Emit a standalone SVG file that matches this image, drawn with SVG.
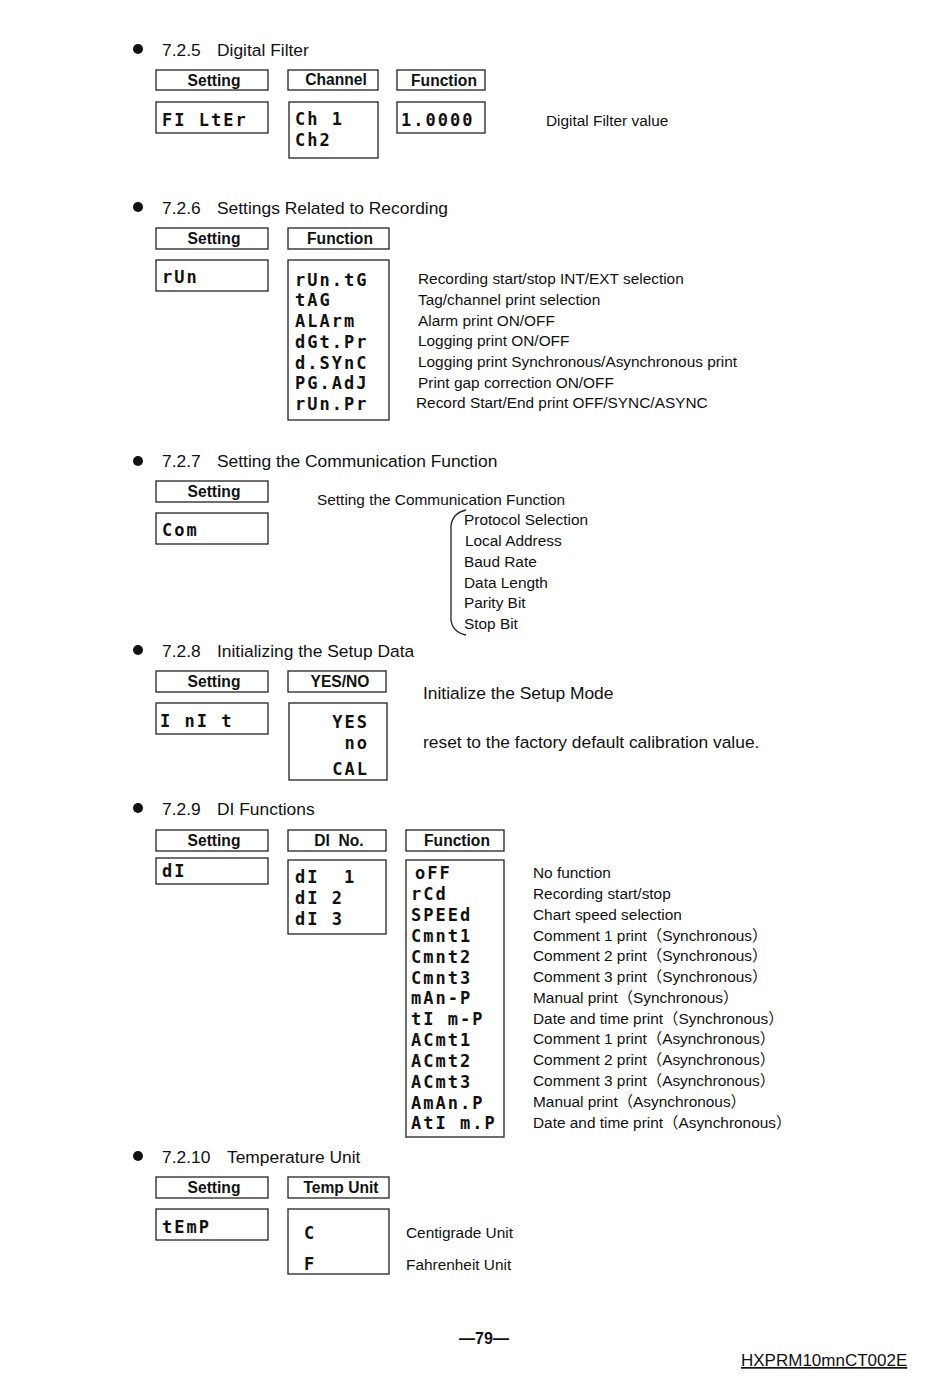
<svg xmlns="http://www.w3.org/2000/svg" width="950" height="1378" viewBox="0 0 950 1378">
<style>
.bg{fill:#fff}
.box{fill:#fff;stroke:#222;stroke-width:1.3}
.h{font-family:"Liberation Sans",Arial,sans-serif;font-size:17.4px;fill:#111}
.lb{font-family:"Liberation Sans",Arial,sans-serif;font-size:15.6px;font-weight:bold;fill:#111;text-anchor:middle}
.t{font-family:"Liberation Sans","Noto Sans CJK JP",Arial,sans-serif;font-size:15.4px;fill:#111}
.t2{font-family:"Liberation Sans",Arial,sans-serif;font-size:17.4px;fill:#111}
.seg{font-family:"DejaVu Sans Mono","Liberation Mono",monospace;font-size:17px;font-weight:bold;fill:#111;letter-spacing:2px}
.dot{fill:#111}
.line{fill:none;stroke:#222;stroke-width:1.3}
</style>
<rect class="bg" x="0" y="0" width="950" height="1378"/>

<!-- 7.2.5 -->
<g id="sec725">
<circle class="dot" cx="138" cy="49" r="5"/>
<text class="h" x="162" y="56">7.2.5</text><text class="h" x="217" y="56">Digital Filter</text>
<g id="n725-setting-h"><rect class="box" x="156" y="70" width="112" height="20"/><text class="lb" x="214" y="86">Setting</text></g>
<g id="n725-channel-h"><rect class="box" x="288" y="70" width="90" height="20"/><text class="lb" x="336" y="85">Channel</text></g>
<g id="n725-function-h"><rect class="box" x="397" y="70" width="88" height="20"/><text class="lb" x="444" y="86">Function</text></g>
<g id="n725-setting"><rect class="box" x="156" y="102" width="112" height="31"/><text class="seg" x="162" y="126">FI LtEr</text></g>
<g id="n725-channel"><rect class="box" x="289" y="102" width="89" height="56"/><text class="seg" x="295" y="125">Ch 1</text><text class="seg" x="295" y="146">Ch2</text></g>
<g id="n725-function"><rect class="box" x="397" y="102" width="88" height="31"/><text class="seg" x="401" y="126" letter-spacing="0.5">1.0000</text></g>
<text class="t" x="546" y="126">Digital Filter value</text>
</g>

<!-- 7.2.6 -->
<g id="sec726">
<circle class="dot" cx="138" cy="207" r="5"/>
<text class="h" x="162" y="214">7.2.6</text><text class="h" x="217" y="214">Settings Related to Recording</text>
<g id="n726-setting-h"><rect class="box" x="156" y="228" width="112" height="21"/><text class="lb" x="214" y="244">Setting</text></g>
<g id="n726-function-h"><rect class="box" x="288" y="228" width="101" height="21"/><text class="lb" x="340" y="244">Function</text></g>
<g id="n726-setting"><rect class="box" x="156" y="260" width="112" height="31"/><text class="seg" x="162" y="283">rUn</text></g>
<g id="n726-function"><rect class="box" x="288" y="260" width="101" height="160"/>
<text class="seg" x="295" y="286">rUn.tG</text>
<text class="seg" x="295" y="306">tAG</text>
<text class="seg" x="295" y="327">ALArm</text>
<text class="seg" x="295" y="348">dGt.Pr</text>
<text class="seg" x="295" y="369">d.SYnC</text>
<text class="seg" x="295" y="389">PG.AdJ</text>
<text class="seg" x="295" y="410">rUn.Pr</text>
</g>
<text class="t" x="418" y="284">Recording start/stop INT/EXT selection</text>
<text class="t" x="418" y="305">Tag/channel print selection</text>
<text class="t" x="418" y="326">Alarm print ON/OFF</text>
<text class="t" x="418" y="346">Logging print ON/OFF</text>
<text class="t" x="418" y="367">Logging print Synchronous/Asynchronous print</text>
<text class="t" x="418" y="388">Print gap correction ON/OFF</text>
<text class="t" x="416" y="408">Record Start/End print OFF/SYNC/ASYNC</text>
</g>

<!-- 7.2.7 -->
<g id="sec727">
<circle class="dot" cx="138" cy="461" r="5"/>
<text class="h" x="162" y="467">7.2.7</text><text class="h" x="217" y="467">Setting the Communication Function</text>
<g id="n727-setting-h"><rect class="box" x="156" y="481" width="112" height="21"/><text class="lb" x="214" y="497">Setting</text></g>
<g id="n727-setting"><rect class="box" x="156" y="513" width="112" height="31"/><text class="seg" x="162" y="536">Com</text></g>
<text class="t" x="317" y="505">Setting the Communication Function</text>
<path class="line" d="M466,510 C457,512 452,517 451,526 L451,620 C452,629 457,633 466,635"/>
<text class="t" x="464" y="525">Protocol Selection</text>
<text class="t" x="465" y="546">Local Address</text>
<text class="t" x="464" y="567">Baud Rate</text>
<text class="t" x="464" y="588">Data Length</text>
<text class="t" x="464" y="608">Parity Bit</text>
<text class="t" x="464" y="629">Stop Bit</text>
</g>

<!-- 7.2.8 -->
<g id="sec728">
<circle class="dot" cx="138" cy="650" r="5"/>
<text class="h" x="162" y="657">7.2.8</text><text class="h" x="217" y="657">Initializing the Setup Data</text>
<g id="n728-setting-h"><rect class="box" x="156" y="671" width="112" height="21"/><text class="lb" x="214" y="687">Setting</text></g>
<g id="n728-yesno-h"><rect class="box" x="288" y="671" width="98" height="21"/><text class="lb" x="340" y="687">YES/NO</text></g>
<g id="n728-setting"><rect class="box" x="156" y="703" width="112" height="31"/><text class="seg" x="160" y="727">I nI t</text></g>
<g id="n728-yesno"><rect class="box" x="289" y="703" width="98" height="77"/>
<text class="seg" x="369" y="728" text-anchor="end">YES</text>
<text class="seg" x="369" y="749" text-anchor="end">no</text>
<text class="seg" x="369" y="775" text-anchor="end">CAL</text>
</g>
<text class="t2" x="423" y="699">Initialize the Setup Mode</text>
<text class="t2" x="423" y="748">reset to the factory default calibration value.</text>
</g>

<!-- 7.2.9 -->
<g id="sec729">
<circle class="dot" cx="138" cy="808" r="5"/>
<text class="h" x="162" y="815">7.2.9</text><text class="h" x="217" y="815">DI Functions</text>
<g id="n729-setting-h"><rect class="box" x="156" y="830" width="112" height="21"/><text class="lb" x="214" y="846">Setting</text></g>
<g id="n729-dino-h"><rect class="box" x="288" y="830" width="98" height="21"/><text class="lb" x="339" y="846" xml:space="preserve">DI  No.</text></g>
<g id="n729-function-h"><rect class="box" x="406" y="830" width="98" height="21"/><text class="lb" x="457" y="846">Function</text></g>
<g id="n729-setting"><rect class="box" x="156" y="858" width="112" height="26"/><text class="seg" x="162" y="877">dI</text></g>
<g id="n729-dino"><rect class="box" x="288" y="860" width="98" height="74"/>
<text class="seg" x="295" y="883" xml:space="preserve">dI  1</text>
<text class="seg" x="295" y="904">dI 2</text>
<text class="seg" x="295" y="925">dI 3</text>
</g>
<g id="n729-function"><rect class="box" x="406" y="860" width="98" height="277"/>
<text class="seg" x="415" y="879">oFF</text>
<text class="seg" x="411" y="900">rCd</text>
<text class="seg" x="411" y="921">SPEEd</text>
<text class="seg" x="411" y="942">Cmnt1</text>
<text class="seg" x="411" y="963">Cmnt2</text>
<text class="seg" x="411" y="984">Cmnt3</text>
<text class="seg" x="411" y="1004">mAn-P</text>
<text class="seg" x="411" y="1025">tI m-P</text>
<text class="seg" x="411" y="1046">ACmt1</text>
<text class="seg" x="411" y="1067">ACmt2</text>
<text class="seg" x="411" y="1088">ACmt3</text>
<text class="seg" x="411" y="1109">AmAn.P</text>
<text class="seg" x="411" y="1129">AtI m.P</text>
</g>
<text class="t" x="533" y="878">No function</text>
<text class="t" x="533" y="899">Recording start/stop</text>
<text class="t" x="533" y="920">Chart speed selection</text>
<text class="t" x="533" y="941">Comment 1 print（Synchronous）</text>
<text class="t" x="533" y="961">Comment 2 print（Synchronous）</text>
<text class="t" x="533" y="982">Comment 3 print（Synchronous）</text>
<text class="t" x="533" y="1003">Manual print（Synchronous）</text>
<text class="t" x="533" y="1024">Date and time print（Synchronous）</text>
<text class="t" x="533" y="1044">Comment 1 print（Asynchronous）</text>
<text class="t" x="533" y="1065">Comment 2 print（Asynchronous）</text>
<text class="t" x="533" y="1086">Comment 3 print（Asynchronous）</text>
<text class="t" x="533" y="1107">Manual print（Asynchronous）</text>
<text class="t" x="533" y="1128">Date and time print（Asynchronous）</text>
</g>

<!-- 7.2.10 -->
<g id="sec7210">
<circle class="dot" cx="138" cy="1156" r="5"/>
<text class="h" x="162" y="1163">7.2.10</text><text class="h" x="227" y="1163">Temperature Unit</text>
<g id="n7210-setting-h"><rect class="box" x="156" y="1177" width="112" height="21"/><text class="lb" x="214" y="1193">Setting</text></g>
<g id="n7210-unit-h"><rect class="box" x="288" y="1177" width="101" height="21"/><text class="lb" x="341" y="1193">Temp Unit</text></g>
<g id="n7210-setting"><rect class="box" x="156" y="1209" width="112" height="31"/><text class="seg" x="162" y="1233">tEmP</text></g>
<g id="n7210-unit"><rect class="box" x="288" y="1209" width="101" height="65"/>
<text class="seg" x="304" y="1239">C</text>
<text class="seg" x="304" y="1270">F</text>
</g>
<text class="t" x="406" y="1238">Centigrade Unit</text>
<text class="t" x="406" y="1270">Fahrenheit Unit</text>
</g>

<!-- footer -->
<g id="footer">
<text x="484" y="1344" font-family="'Liberation Sans',Arial,sans-serif" font-size="16" font-weight="bold" fill="#111" text-anchor="middle">—79—</text>
<text x="741" y="1366" font-family="'Liberation Sans',Arial,sans-serif" font-size="17" fill="#111" text-decoration="underline">HXPRM10mnCT002E</text>
</g>
<g id="connectors"></g>
</svg>
